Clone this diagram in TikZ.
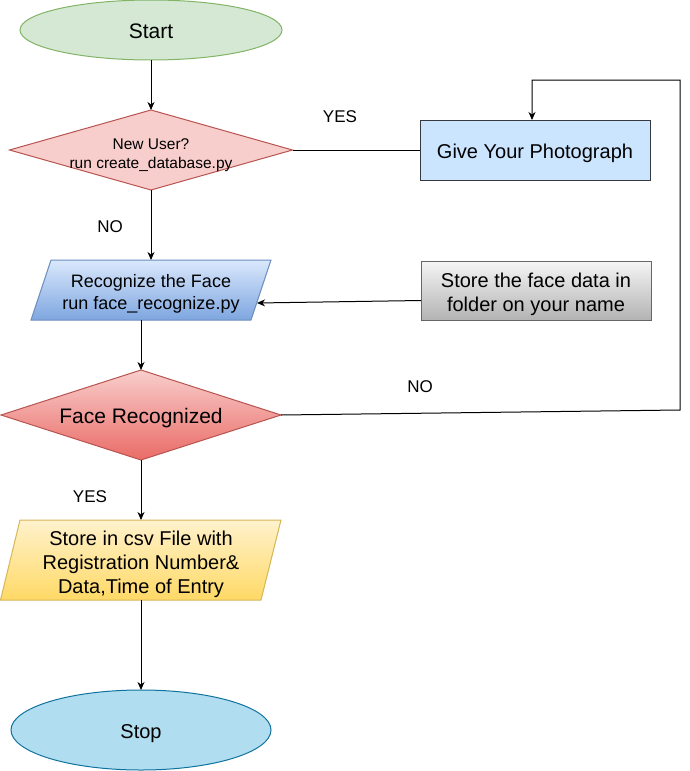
\documentclass[tikz,border=0pt]{standalone}
\usepackage{fontspec}
\setmainfont{Liberation Sans}
\usetikzlibrary{shapes.geometric,arrows.meta,calc}
\definecolor{txtc}{HTML}{000000}
\definecolor{startF}{HTML}{D5E8D4}\definecolor{startD}{HTML}{82B366}
\definecolor{redF}{HTML}{F8CECC}\definecolor{redD}{HTML}{B85450}\definecolor{redB}{HTML}{EA6B66}
\definecolor{photoF}{HTML}{CCE5FF}\definecolor{photoD}{HTML}{36393D}
\definecolor{blueT}{HTML}{DAE8FC}\definecolor{blueB}{HTML}{7EA6E0}\definecolor{blueD}{HTML}{6C8EBF}
\definecolor{greyT}{HTML}{F5F5F5}\definecolor{greyB}{HTML}{B3B3B3}\definecolor{greyD}{HTML}{666666}
\definecolor{yelT}{HTML}{FFF2CC}\definecolor{yelB}{HTML}{FFD966}\definecolor{yelD}{HTML}{D6B656}
\definecolor{stopF}{HTML}{B1DDF0}\definecolor{stopD}{HTML}{10739E}
\begin{document}
\begin{tikzpicture}[x=1pt,y=-1pt,
  line width=1pt,
  every node/.style={text=txtc},
  arr/.style={-{Stealth[length=8pt,width=7pt,inset=2.5pt]},line width=1pt},
  conn/.style={line width=1pt},
  lbl/.style={font=\fontsize{17}{20}\selectfont,yshift=-2pt},
  txt/.style={align=center,inner sep=0pt,yshift=-3.5pt},
  shapebox/.style={inner sep=0pt,outer sep=0pt}
]
\useasboundingbox (0,0) rectangle (689,771);

% Start
\node[ellipse,shapebox,draw=startD,fill=startF,minimum width=262,minimum height=60] (start) at (151,30) {};
\node[txt,font=\fontsize{21}{25}\selectfont,yshift=2pt] (starttxt) at (start) {Start};

% New user decision
\node[diamond,shapebox,draw=redD,fill=redF,minimum width=283,minimum height=80] (q1) at (151,150) {};
\node[txt,font=\fontsize{15.5}{19.5}\selectfont,yshift=-1.5pt] (q1txt) at (q1) {New User?\\run create\_database.py};

% Give Your Photograph
\node[rectangle,shapebox,draw=photoD,fill=photoF,minimum width=230,minimum height=60] (photo) at (535,150) {};
\node[txt,font=\fontsize{20}{24}\selectfont] (phototxt) at (photo) {Give Your Photograph};

% Recognize parallelogram
\coordinate (recTL) at (51,260);
\coordinate (recTR) at (271,260);
\coordinate (recBR) at (251,320);
\coordinate (recBL) at (31,320);
\path[draw=blueD,top color=blueT,bottom color=blueB] (recTL) -- (recTR) -- (recBR) -- (recBL) -- cycle;
\node[txt,font=\fontsize{18}{22}\selectfont] (recog) at (151,290) {Recognize the Face\\run face\_recognize.py};
\coordinate (recT) at (151,260);
\coordinate (recB) at (141,320);
\coordinate (recR) at (257,303);

% Store face data box
\node[rectangle,shapebox,draw=greyD,top color=greyT,bottom color=greyB,minimum width=230,minimum height=59] (store) at (536,290.5) {};
\node[txt,font=\fontsize{20}{24}\selectfont] (storetxt) at (store) {Store the face data in\\folder on your name};

% Face recognized decision
\node[diamond,shapebox,draw=redD,top color=redF,bottom color=redB,minimum width=280,minimum height=90] (face) at (141,415) {};
\node[txt,font=\fontsize{21}{25}\selectfont] (facetxt) at (face) {Face Recognized};

% csv parallelogram
\coordinate (csvTL) at (20,520);
\coordinate (csvTR) at (281,520);
\coordinate (csvBR) at (261,600);
\coordinate (csvBL) at (0.5,600);
\path[draw=yelD,top color=yelT,bottom color=yelB] (csvTL) -- (csvTR) -- (csvBR) -- (csvBL) -- cycle;
\node[txt,font=\fontsize{20}{24}\selectfont] (csv) at (141,561) {Store in csv File with\\Registration Number\&\\Data,Time of Entry};
\coordinate (csvT) at (141,520);
\coordinate (csvB) at (141,600);

% Stop
\node[ellipse,shapebox,draw=stopD,fill=stopF,minimum width=260,minimum height=80] (stop) at (141,730) {};
\node[txt,font=\fontsize{20}{24}\selectfont] (stoptxt) at (stop) {Stop};

% Connectors
\draw[arr] (start.south) -- (q1.north);
\draw[conn] (q1.east) -- (photo.west);
\draw[arr] (q1.south) -- (recT);
\draw[arr] ([yshift=-10pt]store.west) -- (recR);
\draw[arr] (recB) -- (face.north);
\coordinate (c1) at (680,410);
\coordinate (c2) at (680,80);
\draw[arr] (face.east) -- (c1) -- (c2) -| ([xshift=-3pt]photo.north);
\draw[arr] (face.south) -- (csvT);
\draw[arr] (csvB) -- (stop.north);

% Labels
\node[lbl] (yes1) at (340,115) {YES};
\node[lbl] (no1) at (110,225) {NO};
\node[lbl] (no2) at (420,385) {NO};
\node[lbl] (yes2) at (90,495) {YES};
\end{tikzpicture}
\end{document}
